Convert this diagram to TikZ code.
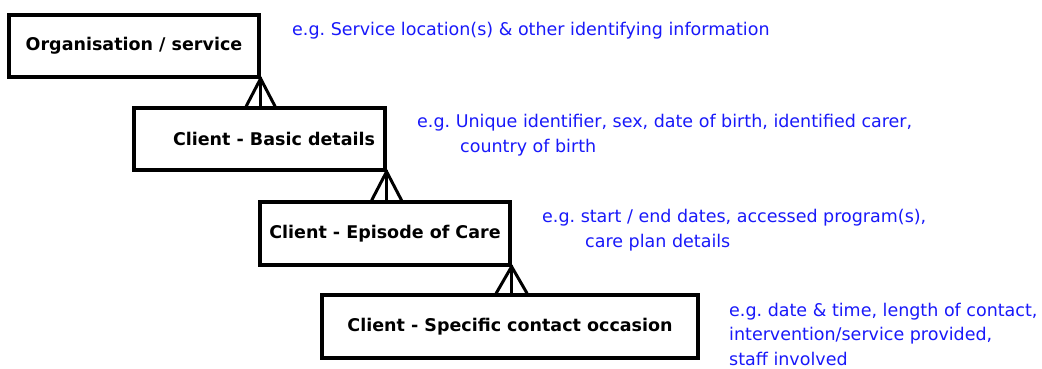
\documentclass[tikz,border=0pt]{standalone}
\usepackage{fontspec}
\setmainfont{DejaVu Sans}
\usetikzlibrary{calc}
\definecolor{annblue}{RGB}{25,25,250}
\frenchspacing
\begin{document}
\begin{tikzpicture}[x=1pt,y=-1pt,
  entity/.style={draw=black, line width=3.2pt, inner sep=0pt, fill=white,
    font=\fontsize{17.5}{20}\selectfont\bfseries},
  link/.style={draw=black, line width=3pt, line cap=rect},
  note/.style={text=annblue, inner sep=0pt, anchor=base west, align=left,
    font=\fontsize{17.5}{24.5}\selectfont}]
\useasboundingbox (0,0) rectangle (1042,368);
\fill[white] (0,0) rectangle (1042,368);

\node[entity, minimum width=250pt, minimum height=62pt] (b1) at (134,46) {Organisation / service};
\node[entity, minimum width=251pt, minimum height=62pt] (b2) at (259.5,139) {\hspace*{29pt}Client - Basic details};
\node[entity, minimum width=250pt, minimum height=63pt] (b3) at (385,233.5) {Client - Episode of Care};
\node[entity, minimum width=376pt, minimum height=63pt] (b4) at (510,326.5) {Client - Specific contact occasion};

% crow's foot connectors
\draw[link] (b1.south east) -- (b1.south east |- b2.north);
\draw[link, line cap=butt] ($(b1.south east |- b2.north)+(-14.5,0)$) -- (b1.south east) -- ($(b1.south east |- b2.north)+(14.5,0)$);

\draw[link] (b2.south east) -- (b2.south east |- b3.north);
\draw[link, line cap=butt] ($(b2.south east |- b3.north)+(-15,0)$) -- (b2.south east) -- ($(b2.south east |- b3.north)+(15,0)$);

\draw[link] (b3.south east) -- (b3.south east |- b4.north);
\draw[link, line cap=butt] ($(b3.south east |- b4.north)+(-15.5,0)$) -- (b3.south east) -- ($(b3.south east |- b4.north)+(15.5,0)$);

% annotations (base anchor = last line's baseline)
\node[note] (n1) at (292,35) {e.g. Service location(s) \& other identifying information};
\node[note] (n2) at (417,152) {e.g. Unique identifier, sex, date of birth, identified carer,\\\hspace*{43pt}country of birth};
\node[note] (n3) at (542,247) {e.g. start / end dates, accessed program(s),\\\hspace*{43pt}care plan details};
\node[note] (n4) at (729,365) {e.g. date \& time, length of contact,\\intervention/service provided,\\staff involved};
\end{tikzpicture}
\end{document}
